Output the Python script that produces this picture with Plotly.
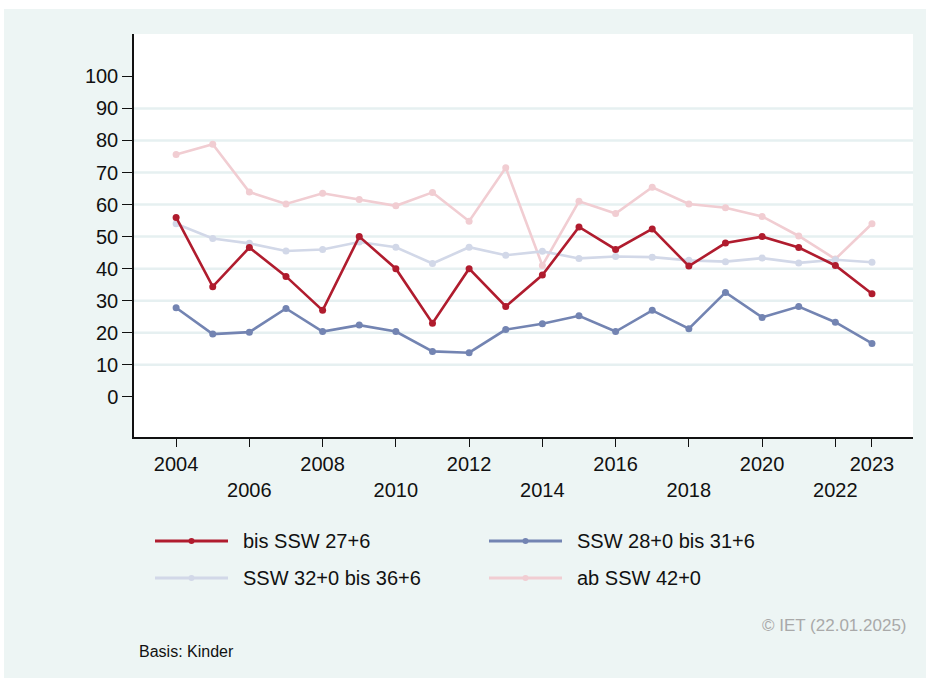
import plotly.graph_objects as go

# Jahre und Anteile je Schwangerschaftswochen-Gruppe (in %)
years = list(range(2004, 2024))

bis_27_6 = [56.0, 34.4, 46.6, 37.6, 27.0, 50.0, 40.0, 23.0, 40.0, 28.2,
            38.0, 53.0, 46.0, 52.4, 40.8, 48.0, 50.0, 46.6, 41.0, 32.2]
ssw_28_31 = [27.8, 19.6, 20.2, 27.6, 20.4, 22.4, 20.4, 14.2, 13.8, 21.0,
             22.8, 25.3, 20.4, 27.0, 21.3, 32.6, 24.8, 28.2, 23.3, 16.7]
ssw_32_36 = [54.0, 49.4, 47.9, 45.5, 46.0, 48.3, 46.7, 41.6, 46.7, 44.2,
             45.4, 43.2, 43.8, 43.6, 42.6, 42.2, 43.3, 41.8, 42.8, 42.0]
ab_42 = [75.6, 78.8, 63.9, 60.2, 63.5, 61.6, 59.6, 63.8, 54.8, 71.5,
         41.0, 61.0, 57.2, 65.4, 60.2, 59.0, 56.3, 50.2, 43.0, 54.0]

series_names = ["bis SSW 27+6", "SSW 28+0 bis 31+6",
                "SSW 32+0 bis 36+6", "ab SSW 42+0"]
series_values = [bis_27_6, ssw_28_31, ssw_32_36, ab_42]
series_colors = ["#b01c2e", "#7384b2", "#d2d8e8", "#f1cdd2"]

x_tickvals = [2004, 2006, 2008, 2010, 2012, 2014, 2016, 2018, 2020, 2022, 2023]
y_tickvals = list(range(0, 101, 10))
grid_vals = list(range(10, 100, 10))

BG = "#edf5f4"
W, H = 926, 683
L, R, T, B = 134, 913, 34, 437  # Plotbereich in Pixeln
FONT = "Liberation Sans, Arial, sans-serif"


def px(x):
    return (x - L) / (R - L)


def py(y):
    return (B - y) / (B - T)


# jede zweite Jahresbeschriftung eine Zeile tiefer setzen
x_ticktext = []
for i, v in enumerate(x_tickvals):
    if v == 2023 or i % 2 == 0:
        x_ticktext.append(str(v))
    else:
        x_ticktext.append("<br>" + str(v))

fig = go.Figure()

# Zeichenreihenfolge: hellste Linien zuerst
for idx in [3, 2, 1, 0]:
    fig.add_trace(go.Scatter(
        x=years, y=series_values[idx], name=series_names[idx],
        mode="lines+markers",
        line=dict(color=series_colors[idx], width=2.6),
        marker=dict(color=series_colors[idx], size=7),
        showlegend=False, hoverinfo="x+y+name",
    ))

shapes = []
# Hintergrund mit schmalem weißen Rand
shapes.append(dict(type="rect", xref="paper", yref="paper", layer="below",
                   x0=px(4), x1=px(W + 2), y0=py(9), y1=py(678),
                   fillcolor=BG, line=dict(width=0)))
shapes.append(dict(type="rect", xref="paper", yref="paper", layer="below",
                   x0=0, x1=1, y0=0, y1=1,
                   fillcolor="white", line=dict(width=0)))
# horizontale Gitterlinien
for g in grid_vals:
    shapes.append(dict(type="line", xref="paper", yref="y", layer="below",
                       x0=0, x1=1, y0=g, y1=g,
                       line=dict(color="#e6f0f1", width=2.5)))

# Legende
legend_items = [
    (0, 155, 541), (1, 489, 541),
    (2, 155, 578), (3, 489, 578),
]
annotations = []
for idx, lx, ly in legend_items:
    col = series_colors[idx]
    shapes.append(dict(type="line", xref="paper", yref="paper",
                       x0=px(lx), x1=px(lx + 73), y0=py(ly), y1=py(ly),
                       line=dict(color=col, width=3)))
    cx = lx + 36.5
    shapes.append(dict(type="circle", xref="paper", yref="paper",
                       x0=px(cx - 3), x1=px(cx + 3), y0=py(ly - 3), y1=py(ly + 3),
                       fillcolor=col, line=dict(width=0)))
    annotations.append(dict(text=series_names[idx], xref="paper", yref="paper",
                            x=px(lx + 86), y=py(ly), xanchor="left",
                            yanchor="middle", showarrow=False,
                            font=dict(size=20, color="#111111")))

annotations.append(dict(text="© IET (22.01.2025)", xref="paper", yref="paper",
                        x=px(909), y=py(625), xanchor="right", yanchor="middle",
                        showarrow=False, font=dict(size=17, color="#a9a9a9")))
annotations.append(dict(text="Basis: Kinder", xref="paper", yref="paper",
                        x=px(137), y=py(651), xanchor="left", yanchor="middle",
                        showarrow=False, font=dict(size=16, color="#111111")))

fig.update_layout(
    width=W, height=H,
    margin=dict(l=L, r=W - R, t=T, b=H - B),
    paper_bgcolor="white",
    plot_bgcolor="rgba(0,0,0,0)",
    font=dict(family=FONT, size=20, color="#111111"),
    shapes=shapes,
    annotations=annotations,
    showlegend=False,
    xaxis=dict(
        range=[2002.85, 2024.12],
        tickmode="array", tickvals=x_tickvals, ticktext=x_ticktext,
        tickangle=0,
        ticks="outside", ticklen=8, tickwidth=1.3, tickcolor="#111111",
        showline=True, linecolor="#111111", linewidth=1.5,
        showgrid=False, zeroline=False,
        tickfont=dict(size=20),
    ),
    yaxis=dict(
        range=[-12.5, 113.2],
        tickmode="array", tickvals=y_tickvals,
        ticks="outside", ticklen=10, tickwidth=1.3, tickcolor="#111111",
        showline=True, linecolor="#111111", linewidth=1.5,
        showgrid=False, zeroline=False,
        tickfont=dict(size=20),
    ),
)

fig.write_html("out.html")
